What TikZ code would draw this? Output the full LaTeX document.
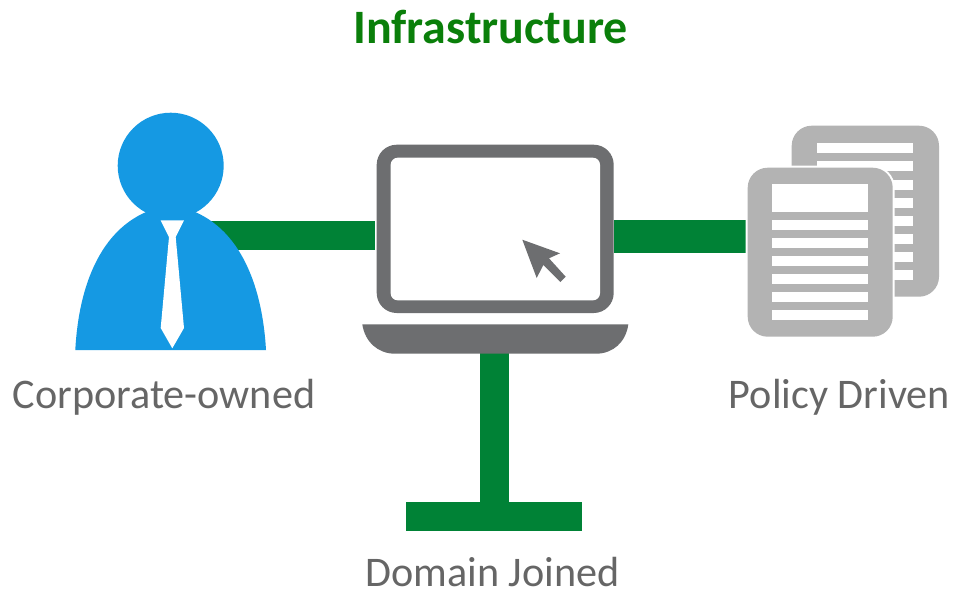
\documentclass[tikz,border=0pt]{standalone}
\usepackage{fontspec}
\setmainfont{Carlito}
\definecolor{bargreen}{HTML}{008236}
\definecolor{titlegreen}{HTML}{0A7F0A}
\definecolor{personblue}{HTML}{1599E3}
\definecolor{laptopgray}{HTML}{6D6E70}
\definecolor{docgray}{HTML}{B3B3B3}
\definecolor{labelgray}{HTML}{666666}
\tikzset{
  greenbar/.style={draw=bargreen,line width=#1*0.02cm},
  label text/.style={anchor=base,inner sep=0pt,text=labelgray,font=\fontsize{24}{28}\selectfont},
  title text/.style={anchor=base,inner sep=0pt,text=titlegreen,font=\bfseries\fontsize{27.3}{30}\selectfont},
}
\begin{document}
\begin{tikzpicture}[x=0.02cm,y=-0.02cm]
\useasboundingbox (0,0) rectangle (954,593);
\fill[white] (0,0) rectangle (954,593);
% anchors for connectors
\coordinate (personend) at (200,235.5);
\coordinate (laptopleft) at (375,235.5);
\coordinate (laptopright) at (614,236.4);
\coordinate (docsleft) at (745.7,236.4);
\coordinate (laptopbottom) at (494.5,352);
\coordinate (teecentre) at (494.5,502);
\coordinate (teeleft) at (406,516.5);
\coordinate (teeright) at (582,516.5);
% connectors
\draw[greenbar=29.4] (personend) -- (laptopleft);
\draw[greenbar=32.8] (laptopright) -- (docsleft);
\draw[greenbar=29] (laptopbottom) -- (teecentre);
\draw[greenbar=29] (teeleft) -- (teeright);
% person
\fill[personblue] (170.7,165.7) circle[radius=53];
\fill[personblue] (75.3,350) .. controls (79,280) and (105,215) .. (170.7,205) .. controls (236,215) and (262,280) .. (266,350) -- cycle;
\fill[white] (160.7,220.4) -- (184,220.4) -- (175.7,237) -- (184,328) -- (172.3,348.3) -- (160.7,328) -- (169,237) -- cycle;
% laptop
\fill[laptopgray,rounded corners=20*0.02cm] (376.7,144.7) rectangle (613.7,313);
\fill[white,rounded corners=7*0.02cm] (390.7,157.7) rectangle (600,300.3);
\fill[laptopgray] (362.3,324.3) -- (628.3,324.3) .. controls (626,342) and (613,353.7) .. (596,353.7) -- (395,353.7) .. controls (378,353.7) and (365,342) .. (362.3,324.3) -- cycle;
\fill[laptopgray] (522.3,239.7) -- (560,253.3) -- (549,258.3) -- (565.7,276.7) -- (560.3,282) -- (543.3,265) -- (536.7,278) -- cycle;
% back document
\fill[docgray,rounded corners=20*0.02cm] (791.7,125.7) rectangle (939,296.7);
\foreach \i in {0,...,7}
  \fill[white] (817,143.3+18.1*\i) rectangle (913.3,153.3+18.1*\i);
% front document
\draw[white,line width=0.08cm,rounded corners=20*0.02cm] (747.7,167.7) rectangle (892.7,336.7);
\fill[docgray,rounded corners=20*0.02cm] (747.7,167.7) rectangle (892.7,336.7);
\fill[white] (771.7,184) rectangle (868.3,212);
\foreach \i in {0,...,5}
  \fill[white] (771.7,220.3+18*\i) rectangle (868.3,230+18*\i);
% labels
\node[title text] (title) at (490.5,43) {Infrastructure};
\node[label text] (corp) at (164,408) {Corporate-owned};
\node[label text] (policy) at (839.5,408) {Policy Driven};
\node[label text] (domain) at (492.5,586) {Domain Joined};
\end{tikzpicture}
\end{document}
